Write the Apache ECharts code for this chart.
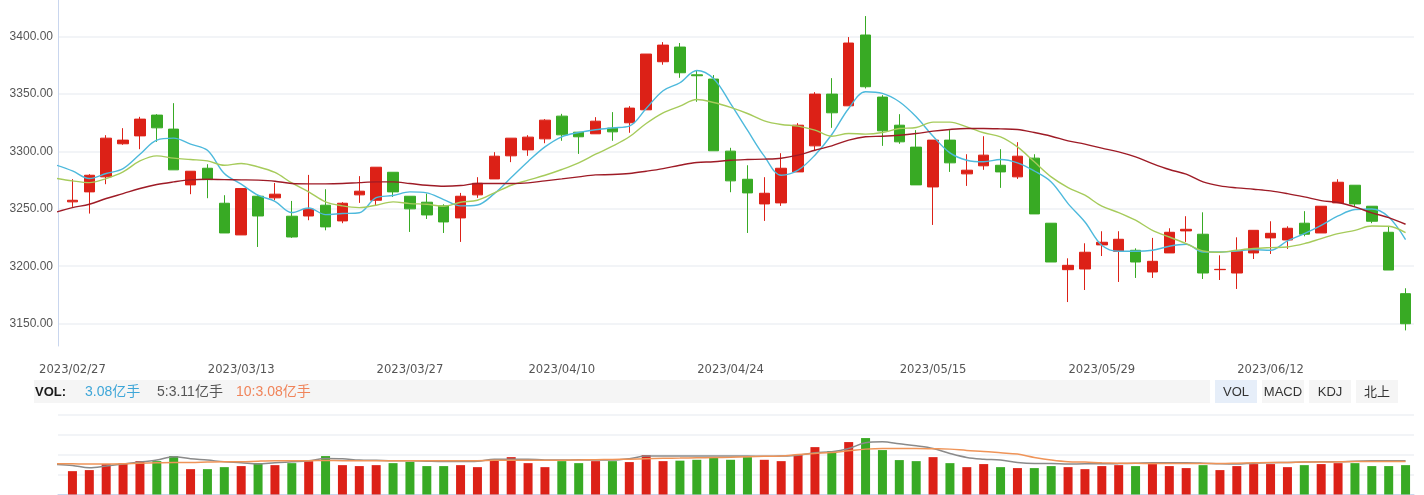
<!DOCTYPE html>
<html><head><meta charset="utf-8">
<script src="https://cdn.jsdelivr.net/npm/echarts@6/dist/echarts.min.js"></script>
<style>html,body{margin:0;padding:0;background:#fff}#c{width:1424px;height:495px}</style>
</head><body><div id="c"></div>
<script>
// ---------- data ----------
const dates = [
'2023/02/27','2023/02/28',
'2023/03/01','2023/03/02','2023/03/03','2023/03/06','2023/03/07','2023/03/08','2023/03/09','2023/03/10',
'2023/03/13','2023/03/14','2023/03/15','2023/03/16','2023/03/17','2023/03/20','2023/03/21','2023/03/22','2023/03/23','2023/03/24',
'2023/03/27','2023/03/28','2023/03/29','2023/03/30','2023/03/31',
'2023/04/03','2023/04/04','2023/04/06','2023/04/07','2023/04/10','2023/04/11','2023/04/12','2023/04/13','2023/04/14',
'2023/04/17','2023/04/18','2023/04/19','2023/04/20','2023/04/21','2023/04/24','2023/04/25','2023/04/26','2023/04/27','2023/04/28',
'2023/05/04','2023/05/05','2023/05/08','2023/05/09','2023/05/10','2023/05/11','2023/05/12','2023/05/15','2023/05/16','2023/05/17',
'2023/05/18','2023/05/19','2023/05/22','2023/05/23','2023/05/24','2023/05/25','2023/05/26','2023/05/29','2023/05/30','2023/05/31',
'2023/06/01','2023/06/02','2023/06/05','2023/06/06','2023/06/07','2023/06/08','2023/06/09','2023/06/12','2023/06/13','2023/06/14',
'2023/06/15','2023/06/16','2023/06/19','2023/06/20','2023/06/21','2023/06/26'];

const opens = [
3256.1,3264.8,3277.9,3306.7,3313.6,3331.7,3319.5,3270.9,3285.4,3254.9,
3227.3,3261.0,3259.6,3243.6,3243.8,3253.2,3239.5,3262.2,3257.5,3281.9,
3261.0,3255.8,3252.6,3242.1,3262.2,3276.1,3296.2,3301.4,3311.0,3330.8,
3316.8,3315.4,3320.3,3325.0,3336.3,3378.2,3391.0,3366.8,3363.1,3300.3,
3275.8,3254.3,3255.2,3282.2,3304.9,3350.0,3339.8,3401.5,3347.4,3322.9,
3303.8,3269.1,3309.9,3280.5,3287.5,3288.0,3277.9,3294.2,3237.5,3197.0,
3197.6,3218.6,3213.0,3213.9,3195.0,3211.6,3230.8,3227.9,3197.0,3194.1,
3211.6,3224.7,3222.9,3237.5,3229.0,3255.2,3270.6,3252.3,3229.6,3176.1];
const closes = [
3257.5,3279.3,3311.6,3309.9,3328.2,3320.6,3284.0,3282.8,3275.5,3229.0,
3267.7,3243.8,3262.8,3225.5,3249.7,3234.3,3254.9,3265.4,3286.3,3264.8,
3250.0,3244.7,3238.6,3261.0,3272.3,3295.9,3311.6,3312.5,3327.3,3314.5,
3312.8,3326.4,3317.1,3337.8,3384.9,3392.7,3368.6,3366.0,3300.6,3274.4,
3263.9,3263.6,3285.4,3322.9,3350.0,3333.7,3394.5,3356.4,3318.0,3308.4,
3270.9,3309.9,3290.1,3283.7,3296.8,3282.2,3295.9,3245.6,3203.7,3200.8,
3212.2,3220.9,3223.5,3203.7,3204.3,3229.6,3232.2,3194.1,3197.3,3213.0,
3231.3,3228.7,3233.1,3227.9,3252.3,3273.2,3254.3,3239.2,3196.7,3149.9];
const lows = [
3251.7,3245.9,3271.5,3305.8,3302.0,3308.4,3284.0,3262.8,3259.3,3229.0,
3227.3,3216.8,3257.5,3224.7,3240.1,3231.3,3237.5,3255.2,3252.6,3260.4,
3229.9,3241.2,3229.0,3221.2,3259.6,3276.1,3290.7,3296.2,3307.2,3309.3,
3297.9,3315.4,3309.3,3316.3,3336.3,3375.6,3364.2,3343.3,3300.6,3264.5,
3229.0,3239.5,3252.6,3282.2,3301.1,3320.6,3339.8,3354.9,3304.9,3306.7,
3270.9,3236.0,3282.2,3270.0,3284.0,3268.3,3276.1,3245.6,3203.7,3168.8,
3179.3,3208.9,3186.3,3189.8,3189.8,3211.6,3221.2,3188.9,3188.0,3180.2,
3206.3,3210.7,3215.1,3226.1,3229.0,3255.2,3251.7,3237.5,3196.7,3144.1];
const highs = [
3275.9,3280.2,3314.2,3320.3,3330.2,3332.5,3342.1,3282.8,3288.9,3261.9,
3267.7,3261.9,3272.6,3256.9,3279.6,3267.1,3255.8,3278.5,3286.3,3281.9,
3261.0,3263.3,3254.0,3263.9,3277.6,3299.4,3311.6,3314.2,3328.2,3332.8,
3316.8,3329.9,3334.3,3339.5,3384.9,3395.3,3394.5,3370.6,3366.6,3303.2,
3288.0,3277.6,3298.5,3324.7,3351.7,3363.9,3399.7,3418.0,3349.1,3332.5,
3318.6,3309.9,3318.6,3297.6,3313.3,3302.0,3308.1,3297.6,3237.5,3206.9,
3220.0,3230.5,3230.5,3215.6,3224.7,3233.1,3243.6,3247.0,3209.5,3225.2,
3231.3,3239.2,3234.8,3248.0,3252.3,3275.8,3270.6,3252.3,3234.8,3180.8];

// moving averages: first value belongs to the trading day before 2023/02/27 (clipped at the left edge)
const ma5 = [3288.3,
3283.1,3276.4,3280.8,3285.1,3297.6,3309.9,3311.6,3306.4,3301.0,3280.8,
3271.5,3261.9,3256.6,3246.8,3250.8,3245.0,3245.9,3246.6,3259.8,3261.6,
3264.8,3263.9,3258.1,3252.6,3253.4,3263.3,3277.3,3291.3,3304.0,3312.8,
3316.5,3318.9,3320.6,3322.1,3337.5,3352.9,3359.9,3370.6,3363.4,3341.8,
3318.6,3295.9,3279.3,3283.7,3296.8,3314.8,3337.5,3352.0,3350.6,3343.3,
3330.2,3313.3,3298.8,3292.4,3291.0,3293.0,3290.1,3283.0,3273.5,3254.6,
3238.6,3218.3,3213.0,3213.0,3213.9,3217.4,3219.1,3212.4,3212.4,3213.3,
3214.5,3213.9,3222.0,3228.4,3235.7,3243.8,3249.4,3249.9,3243.0,3223.2];
const ma10 = [3276.7,
3274.4,3272.9,3276.4,3282.2,3291.8,3296.2,3294.2,3293.0,3291.8,3288.0,
3289.5,3286.6,3281.7,3272.6,3264.8,3256.1,3252.6,3251.1,3253.2,3256.1,
3254.6,3254.0,3252.3,3255.8,3257.5,3263.9,3270.6,3275.0,3279.3,3284.3,
3290.1,3297.6,3304.6,3312.8,3324.4,3333.7,3339.5,3345.3,3342.7,3338.4,
3333.1,3326.7,3323.5,3322.1,3318.6,3313.3,3315.7,3315.1,3316.5,3320.0,
3320.9,3325.6,3325.6,3321.5,3316.3,3312.8,3304.0,3291.0,3277.9,3268.6,
3261.9,3252.3,3246.8,3240.1,3231.3,3225.5,3219.7,3213.3,3212.2,3213.9,
3215.4,3216.2,3216.8,3219.7,3224.1,3228.4,3231.3,3235.1,3234.8,3229.3];
const ma20 = [3247.0,
3251.1,3254.0,3259.0,3263.3,3267.7,3271.2,3273.5,3275.3,3275.8,3275.5,
3275.3,3275.0,3274.1,3272.1,3271.8,3271.8,3272.1,3272.9,3273.5,3273.5,
3272.1,3270.6,3269.7,3270.3,3272.1,3272.1,3272.1,3272.6,3274.4,3276.1,
3277.9,3279.6,3279.9,3280.8,3282.8,3285.1,3288.0,3290.4,3291.0,3292.4,
3293.0,3293.3,3294.1,3296.8,3301.1,3304.9,3309.9,3312.8,3313.3,3314.2,
3315.7,3317.7,3319.2,3320.0,3320.0,3319.7,3319.2,3316.5,3313.3,3309.3,
3306.4,3302.9,3299.7,3295.3,3289.5,3284.3,3280.2,3273.5,3270.0,3268.3,
3267.1,3265.7,3263.3,3260.4,3257.2,3255.5,3251.7,3246.5,3242.4,3236.6];

// volume, 亿手
const volumes = [
2.45,2.56,3.19,3.29,3.50,3.50,4.03,2.66,2.66,2.87,
2.98,3.29,3.08,3.29,3.50,4.03,3.08,2.98,3.08,3.29,
3.43,2.98,2.98,3.08,2.87,3.61,3.92,3.29,2.87,3.50,
3.29,3.50,3.50,3.40,4.13,3.50,3.55,3.64,3.92,3.64,
3.92,3.64,3.50,4.13,4.97,4.55,5.50,5.92,4.66,3.61,
3.50,3.92,3.29,2.87,3.19,2.87,2.77,2.77,2.98,2.87,
2.66,2.98,3.08,2.98,3.19,2.98,2.77,3.08,2.56,2.98,
3.19,3.19,2.87,3.08,3.19,3.29,3.29,2.98,2.98,3.08];
const volMa5 = [3.15,
3.05,2.80,2.98,3.19,3.40,3.61,3.96,3.75,3.61,3.43,
3.33,3.19,3.33,3.43,3.54,3.78,3.75,3.61,3.58,3.54,
3.54,3.50,3.47,3.47,3.50,3.71,3.71,3.71,3.61,3.61,
3.65,3.61,3.61,3.75,4.03,4.03,4.03,4.03,4.03,4.03,
4.03,4.00,4.03,4.13,4.38,4.48,4.83,5.43,5.53,5.32,
5.11,4.83,4.31,3.89,3.71,3.61,3.36,3.26,3.26,3.19,
3.22,3.22,3.24,3.28,3.33,3.33,3.33,3.29,3.22,3.19,
3.29,3.33,3.36,3.40,3.43,3.43,3.50,3.53,3.53,3.53];
const volMa10 = [3.24,
3.22,3.19,3.19,3.22,3.29,3.33,3.36,3.36,3.40,3.43,
3.43,3.50,3.54,3.54,3.54,3.57,3.54,3.55,3.55,3.55,
3.55,3.55,3.55,3.55,3.55,3.58,3.58,3.60,3.60,3.60,
3.62,3.65,3.68,3.70,3.75,3.80,3.82,3.85,3.88,3.90,
3.95,4.00,4.03,4.20,4.31,4.41,4.59,4.76,4.83,4.83,
4.83,4.80,4.76,4.62,4.52,4.38,4.24,3.89,3.61,3.43,
3.40,3.33,3.29,3.27,3.26,3.26,3.26,3.26,3.26,3.29,
3.33,3.36,3.36,3.40,3.40,3.43,3.47,3.47,3.47,3.47];

const labelDates = ['2023/02/27','2023/03/13','2023/03/27','2023/04/10','2023/04/24','2023/05/15','2023/05/29','2023/06/12'];
const volTexts = [
  {text:'VOL:', color:'#1a1a1a', bold:true},
  {text:'3.08亿手', color:'#3ea6d8'},
  {text:'5:3.11亿手', color:'#555555'},
  {text:'10:3.08亿手', color:'#f0845a'}
];
const tabs = ['VOL','MACD','KDJ','北上'];

// ---------- styles / layout ----------
const UP = '#dc2117', DOWN = '#38aa24';
const FONT = '"Liberation Sans", Arial, "Noto Sans CJK SC", sans-serif';
const DATEFONT = '"DejaVu Sans", sans-serif';
const CJK = '"Liberation Sans", "Noto Sans CJK SC", sans-serif';
const Y_MIN = 3130.5, Y_MAX = 3432;
const X_MIN = -0.8557, X_MAX = 79.5;   // maps line points onto candle centres in the wider grid
const V_MAX = 8.34, V_INT = 2.085;
const splitStyle = {color:'#f2f4f7', width:2};

const volTextX = [35, 85, 157, 236];
const graphics = [
  {type:'rect', shape:{x:34, y:380, width:1176, height:23}, style:{fill:'#f5f5f5'}, silent:true}
];
volTexts.forEach((t, k) => graphics.push({
  type:'text', x:volTextX[k], y:392,
  style:{text:t.text, fill:t.color, fontSize:t.bold ? 13 : 14, fontWeight:t.bold?'bold':'normal', fontFamily:CJK, verticalAlign:'middle', align:'left'}
}));
tabs.forEach((t, k) => {
  const x = 1215 + k * 47;
  graphics.push({type:'rect', shape:{x:x, y:380, width:42, height:23}, style:{fill: k === 0 ? '#e6eef9' : '#f5f5f5'}});
  graphics.push({type:'text', x:x + 21, y:392, style:{text:t, fill:'#333', fontSize:13, fontFamily:CJK, align:'center', verticalAlign:'middle'}});
});

const lineSeries = (name, arr, color, xi, yi, width) => ({
  name, type:'line', xAxisIndex:xi, yAxisIndex:yi, smooth:0.35, symbol:'none', silent:true,
  data: arr.map((v, k) => [k - 1, v]),
  lineStyle:{color, width}
});

const option = {
  animation:false,
  backgroundColor:'#ffffff',
  graphic: graphics,
  grid:[
    {left:58, right:10, top:0, height:346},
    {left:64, right:10, top:0, height:346},
    {left:58, right:10, top:415, height:79.5},
    {left:64, right:10, top:415, height:79.5}
  ],
  xAxis:[
    {type:'value', gridIndex:0, min:X_MIN, max:X_MAX, show:false},
    {type:'category', gridIndex:1, data:dates, boundaryGap:true,
      axisLine:{show:false}, axisTick:{show:false}, splitLine:{show:false},
      axisLabel:{interval:(i, v) => labelDates.includes(v), margin:18, color:'#555', fontSize:11.6, fontFamily:DATEFONT}},
    {type:'value', gridIndex:2, min:X_MIN, max:X_MAX,
      axisLine:{show:true, onZero:false, lineStyle:{color:'#c9d6ee', width:1}},
      axisTick:{show:false}, axisLabel:{show:false}, splitLine:{show:false}},
    {type:'category', gridIndex:3, data:dates, boundaryGap:true, show:false}
  ],
  yAxis:[
    {type:'value', gridIndex:0, min:Y_MIN, max:Y_MAX,
      axisLine:{show:true, onZero:false, lineStyle:{color:'#c9d6ee', width:1}},
      axisTick:{show:false},
      axisLabel:{color:'#555', fontSize:12, fontFamily:FONT, margin:5, showMinLabel:false, showMaxLabel:false,
        formatter:v => v.toFixed(2)},
      splitLine:{show:true, showMinLine:false, showMaxLine:false, lineStyle:splitStyle}},
    {type:'value', gridIndex:1, min:Y_MIN, max:Y_MAX, show:false},
    {type:'value', gridIndex:2, min:0, max:V_MAX, interval:V_INT,
      axisLine:{show:false}, axisTick:{show:false}, axisLabel:{show:false},
      splitLine:{show:true, showMinLine:false, lineStyle:splitStyle}},
    {type:'value', gridIndex:3, min:0, max:V_MAX, show:false}
  ],
  series:[
    {type:'candlestick', xAxisIndex:1, yAxisIndex:1, barWidth:11, silent:true,
      data: dates.map((d, i) => [opens[i], closes[i], lows[i], highs[i]]),
      itemStyle:{color:UP, color0:DOWN, borderColor:UP, borderColor0:DOWN, borderWidth:1}},
    lineSeries('MA5', ma5, '#4db9dc', 0, 0, 1.4),
    lineSeries('MA10', ma10, '#a6cb5b', 0, 0, 1.4),
    lineSeries('MA20', ma20, '#9e1b26', 0, 0, 1.4),
    {type:'bar', xAxisIndex:3, yAxisIndex:3, barWidth:9, silent:true,
      data: volumes.map((v, i) => ({value:v, itemStyle:{color: closes[i] >= opens[i] ? UP : DOWN}}))},
    lineSeries('VMA5', volMa5, '#8a8a8a', 2, 2, 1.5),
    lineSeries('VMA10', volMa10, '#ef9458', 2, 2, 1.5)
  ]
};
const chart = echarts.init(document.getElementById('c'), null, {renderer:'canvas'});
chart.setOption(option);
</script>
</body></html>
